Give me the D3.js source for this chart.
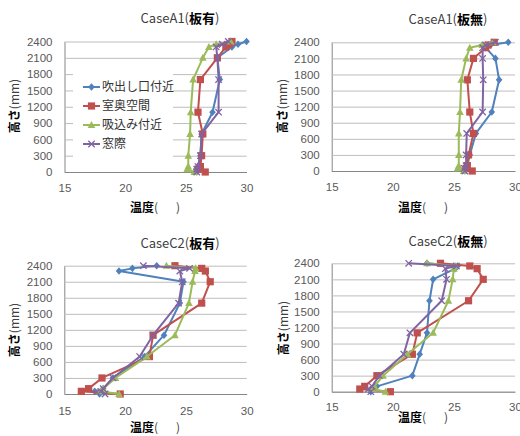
<!DOCTYPE html>
<html>
<head>
<meta charset="utf-8">
<script src="https://cdn.jsdelivr.net/npm/d3@7"></script>
<style>
  body { margin: 0; background: #fff; }
  svg { display: block; font-family: "Noto Sans CJK JP", "Noto Sans", sans-serif; }
</style>
</head>
<body>
<svg id="chart" width="520" height="436"></svg>
<script>
// measurement heights (mm) shared by every series
const heights = [0, 50, 100, 300, 700, 1100, 1700, 2100, 2300, 2350, 2400];
const tempTicks = [15, 20, 25, 30];
const heightTicks = [0, 300, 600, 900, 1200, 1500, 1800, 2100, 2400];
const seriesNames = ["吹出し口付近", "室奥空間", "吸込み付近", "窓際"];

// temperatures, one row per series, in the order of seriesNames
const caseA1Ari = [
  [25.9, 25.85, 26.0, 26.2, 26.3, 27.2, 27.8, 27.6, 28.8, 29.3, 30.0],
  [26.6, 26.0, 26.2, 26.3, 26.4, 26.0, 26.2, 27.6, 28.3, 28.6, 28.8],
  [25.7, 25.1, 25.2, 25.2, 25.35, 25.4, 25.6, 26.4, 26.9, 27.5, 28.7],
  [25.9, 25.9, 26.0, 26.2, 26.3, 27.7, 27.7, 27.6, 27.5, 28.0, 28.5]
];
const caseA1Nashi = [
  [25.9, 26.0, 26.1, 26.3, 26.8, 28.1, 28.7, 28.4, 27.6, 28.0, 29.45],
  [26.5, 26.0, 26.1, 26.2, 26.6, 26.3, 26.1, 26.6, 27.6, 27.8, 28.3],
  [25.8, 25.3, 25.4, 25.4, 25.4, 25.5, 25.6, 26.0, 26.3, 27.3, 28.2],
  [25.9, 25.85, 26.0, 26.0, 26.05, 27.35, 27.4, 27.35, 27.35, 27.6, 28.4]
];
const caseC2Ari = [
  [17.9, 17.5, 18.2, 19.0, 21.6, 23.2, 24.5, 24.8, 19.5, 20.6, 22.6],
  [19.6, 16.4, 17.0, 18.1, 22.0, 22.3, 26.3, 27.0, 26.6, 26.3, 24.1],
  [19.5, 18.0, 18.2, 19.2, 21.8, 24.1, 25.25, 25.55, 25.75, 25.8, 23.4],
  [18.35, 18.0, 18.2, 19.0, 21.2, 22.3, 24.4, 24.7, 24.5, 25.3, 21.5]
];
const caseC2Nashi = [
  [18.2, 18.4, 18.7, 21.6, 22.2, 22.8, 23.0, 23.3, 25.1, 25.3, 22.8],
  [19.8, 17.3, 17.7, 18.7, 21.6, 22.0, 26.2, 27.4, 26.9, 26.3, 23.9],
  [19.4, 18.3, 18.5, 19.2, 21.2, 23.3, 24.55, 24.9, 25.0, 25.1, 22.8],
  [18.2, 18.0, 18.3, 18.9, 20.9, 21.4, 24.0, 24.4, 24.3, 25.2, 21.3]
];

const colors = ["#4F81BD", "#C0504D", "#9BBB59", "#8064A2"];

const panels = [
  { values: caseA1Ari, title: ["CaseA1(", "板有", ")"], x0: 64.5, x1: 246.5, y0: 41.5, y1: 172,
    titleX: 180, titleY: 23, yLabX: 15, yLabY: 106, xLabX: 155, xLabY: 208, xPad: 12, legend: true },
  { values: caseA1Nashi, title: ["CaseA1(", "板無", ")"], x0: 331.7, x1: 515, y0: 42.3, y1: 171,
    titleX: 448, titleY: 24, yLabX: 283, yLabY: 106, xLabX: 423, xLabY: 208, xPad: 12 },
  { values: caseC2Ari, title: ["CaseC2(", "板有", ")"], x0: 64.3, x1: 246.7, y0: 265.7, y1: 394,
    titleX: 180, titleY: 248, yLabX: 15, yLabY: 330, xLabX: 155, xLabY: 428, xPad: 13 },
  { values: caseC2Nashi, title: ["CaseC2(", "板無", ")"], x0: 331.7, x1: 515, y0: 263.3, y1: 391.7,
    titleX: 448, titleY: 246, yLabX: 284, yLabY: 328, xLabX: 423, xLabY: 418, xPad: 11 }
];

const svg = d3.select("#chart");

function drawMarker(g, i, cx, cy, color) {
  if (i === 0) {
    g.append("path").attr("d", `M${cx},${cy - 3.8}L${cx + 3.3},${cy}L${cx},${cy + 3.8}L${cx - 3.3},${cy}Z`)
      .attr("fill", color);
  } else if (i === 1) {
    g.append("rect").attr("x", cx - 3.6).attr("y", cy - 3.6).attr("width", 7.2).attr("height", 7.2)
      .attr("fill", color);
  } else if (i === 2) {
    g.append("path").attr("d", `M${cx},${cy - 4}L${cx + 3.8},${cy + 3}L${cx - 3.8},${cy + 3}Z`)
      .attr("fill", color);
  } else {
    g.append("path").attr("d", `M${cx - 3.2},${cy - 3.2}L${cx + 3.2},${cy + 3.2}M${cx + 3.2},${cy - 3.2}L${cx - 3.2},${cy + 3.2}`)
      .attr("stroke", color).attr("stroke-width", 1.3).attr("fill", "none");
  }
}

panels.forEach(p => {
  const x = d3.scaleLinear().domain([15, 30]).range([p.x0, p.x1]);
  const y = d3.scaleLinear().domain([0, 2400]).range([p.y1, p.y0]);
  const g = svg.append("g");

  // horizontal gridlines + y labels
  const yAxis = g.append("g")
    .attr("transform", `translate(${p.x0},0)`)
    .call(d3.axisLeft(y).tickValues(heightTicks).tickFormat(d3.format("d"))
      .tickSize(-(p.x1 - p.x0)).tickSizeOuter(0).tickPadding(12));
  yAxis.select(".domain").attr("stroke", "#868686");
  yAxis.selectAll(".tick line").attr("stroke", "#bdbdbd");
  yAxis.selectAll(".tick text").attr("fill", "#595959").style("font-size", "11.5px")
    .style("font-family", "'Liberation Sans', sans-serif");

  const xAxis = g.append("g")
    .attr("transform", `translate(0,${p.y1})`)
    .call(d3.axisBottom(x).tickValues(tempTicks).tickSize(0).tickPadding(p.xPad));
  xAxis.select(".domain").attr("stroke", "#868686");
  xAxis.selectAll(".tick text").attr("fill", "#595959").style("font-size", "11.5px")
    .style("font-family", "'Liberation Sans', sans-serif");

  // legend box hides the gridlines beneath it
  if (p.legend) {
    const lg = g.append("g");
    lg.append("rect").attr("x", 73).attr("y", 68).attr("width", 100).attr("height", 93).attr("fill", "#fff");
    seriesNames.forEach((name, i) => {
      const cy = 87 + i * 19;
      lg.append("line").attr("x1", 83).attr("x2", 100).attr("y1", cy).attr("y2", cy)
        .attr("stroke", colors[i]).attr("stroke-width", 2);
      drawMarker(lg, i, 91.5, cy, colors[i]);
      lg.append("text").attr("x", 102).attr("y", cy).attr("dy", "0.36em")
        .attr("fill", "#333").style("font-size", "12px").text(name);
    });
  }

  const line = d3.line().x(d => x(d[0])).y(d => y(d[1]));
  p.values.forEach((vals, i) => {
    const pts = vals.map((v, k) => [v, heights[k]]);
    const sg = g.append("g");
    sg.append("path").datum(pts).attr("d", line)
      .attr("fill", "none").attr("stroke", colors[i]).attr("stroke-width", 2).attr("stroke-linejoin", "round");
    pts.forEach(d => drawMarker(sg, i, x(d[0]), y(d[1]), colors[i]));
  });

  // titles
  const t = g.append("text").attr("x", p.titleX).attr("y", p.titleY).attr("text-anchor", "middle")
    .style("font-size", "13px").attr("fill", "#404040");
  t.append("tspan").text(p.title[0]);
  t.append("tspan").attr("font-weight", "bold").attr("fill", "#000").text(p.title[1]);
  t.append("tspan").text(p.title[2]);

  const yl = g.append("text")
    .attr("transform", `translate(${p.yLabX},${p.yLabY}) rotate(-90)`)
    .attr("text-anchor", "middle").attr("dy", "0.35em").style("font-size", "12px").attr("fill", "#404040");
  yl.append("tspan").attr("font-weight", "bold").attr("fill", "#000").text("高さ");
  yl.append("tspan").text("(mm)");

  const xl = g.append("text").attr("x", p.xLabX).attr("y", p.xLabY).attr("dy", "0.35em")
    .attr("text-anchor", "middle").style("font-size", "12px").attr("fill", "#404040");
  xl.append("tspan").attr("font-weight", "bold").attr("fill", "#000").text("温度");
  xl.append("tspan").text("(\u3000\u2002)");
});
</script>
</body>
</html>
